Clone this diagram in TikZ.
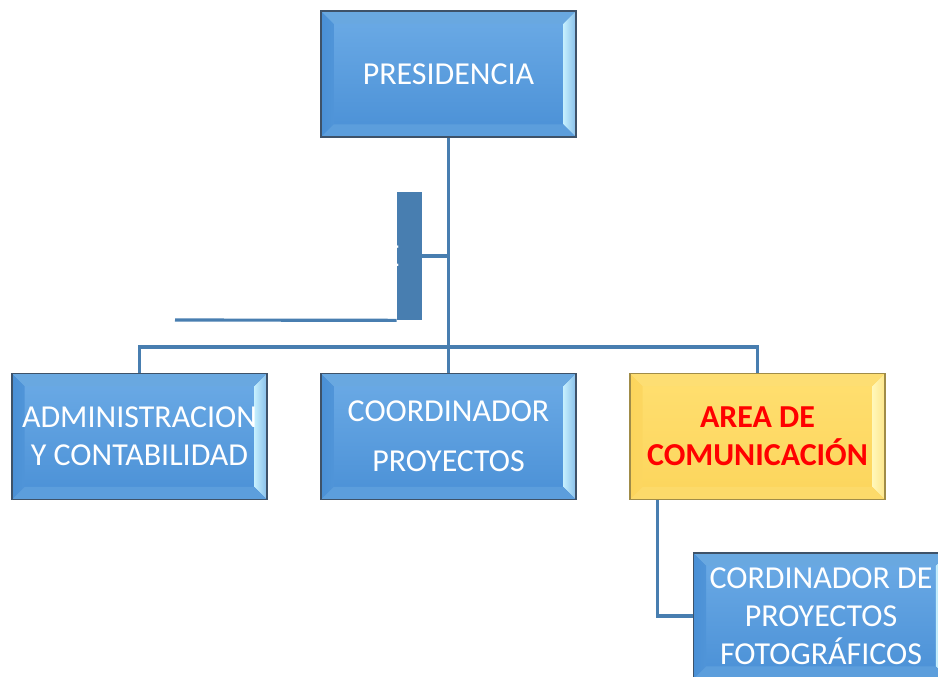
\documentclass[tikz,border=0pt]{standalone}
\usepackage{fontspec}
\setmainfont{Carlito}
\usepackage{xcolor}
\usepackage{tikz}
\usetikzlibrary{positioning}
\definecolor{bluetop}{RGB}{108,171,230}
\definecolor{bluebot}{RGB}{74,144,214}
\definecolor{bluelite}{RGB}{196,238,253}
\definecolor{blueedge}{RGB}{62,82,104}
\definecolor{yellowtop}{RGB}{255,223,112}
\definecolor{yellowbot}{RGB}{252,213,92}
\definecolor{yellowlite}{RGB}{255,247,185}
\definecolor{yellowedge}{RGB}{160,140,72}
\definecolor{linkblue}{RGB}{72,126,176}
\tikzset{
    treenode/.style = {align=center, inner sep=0pt, text centered, rectangle, line width=1pt,
        minimum width=5.1cm, minimum height=2.52cm, font=\fontsize{18.2}{21.5}\selectfont},
    bevel/.style 2 args = {path picture={
        \shade[left color=#1, right color=#2]
            (path picture bounding box.north west) -- (path picture bounding box.south west)
            -- ([shift={(0.25cm,0.25cm)}]path picture bounding box.south west)
            -- ([shift={(0.25cm,-0.25cm)}]path picture bounding box.north west) -- cycle;
        \shade[left color=#2, right color=#1!50!#2]
            (path picture bounding box.north east) -- (path picture bounding box.south east)
            -- ([shift={(-0.25cm,0.25cm)}]path picture bounding box.south east)
            -- ([shift={(-0.25cm,-0.25cm)}]path picture bounding box.north east) -- cycle;
        \fill[#1!75!#2]
            (path picture bounding box.north west) -- (path picture bounding box.north east)
            -- ([shift={(-0.25cm,-0.25cm)}]path picture bounding box.north east)
            -- ([shift={(0.25cm,-0.25cm)}]path picture bounding box.north west) -- cycle;
        \fill[#1!85!#2]
            (path picture bounding box.south west) -- (path picture bounding box.south east)
            -- ([shift={(-0.25cm,0.25cm)}]path picture bounding box.south east)
            -- ([shift={(0.25cm,0.25cm)}]path picture bounding box.south west) -- cycle;
    }},
    blue_node/.style = {treenode, draw=blueedge, top color=bluetop, bottom color=bluebot,
        bevel={bluebot}{bluelite}, text=white},
    yellow_node/.style = {treenode, draw=yellowedge, top color=yellowtop, bottom color=yellowbot,
        bevel={yellowbot}{yellowlite}, text=red, font=\fontsize{18.2}{21.5}\selectfont\bfseries},
    stub/.style = {rectangle, inner sep=0pt, fill=linkblue, minimum width=0.5cm, minimum height=2.56cm},
    link/.style = {draw=linkblue, line width=1.8pt}
}

\begin{document}
\begin{tikzpicture}[x=0.02cm, y=-0.02cm]
    \useasboundingbox (0,0) rectangle (938,677);
    \clip (0,0) rectangle (938,677);

    \node [blue_node] (pres) at (448.5,74) {PRESIDENCIA};
    \node [blue_node] (admin) at (139.5,436.5) {ADMINISTRACION\\Y CONTABILIDAD};
    \node [blue_node] (coord) at (448.5,436.5) {COORDINADOR\\[7pt]PROYECTOS};
    \node [yellow_node] (area) at (757.5,436.5) {AREA DE\\COMUNICACIÓN};
    \node [blue_node] (foto) at (821,616) {CORDINADOR DE\\PROYECTOS\\FOTOGRÁFICOS};

    \node [stub] (stub) at (409.5,256) {};
    \node [anchor=east, inner sep=0pt, text=white, font=\fontsize{18.2}{21.5}\selectfont] (stubtext) at (400,256) {E};
    \coordinate (stubend) at (175,320);
    \coordinate (bar) at (448.5,347);

    \draw [link] (pres.south) -- (coord.north);
    \draw [link] (admin.north) |- (bar) -| (area.north);
    \draw [link] (stub.east) -- (stub.east -| pres.south);
    \draw [link] (stubend) -- (stub.south west);
    \draw [link] ([xshift=-2cm]area.south) |- (foto.west);
\end{tikzpicture}
\end{document}
